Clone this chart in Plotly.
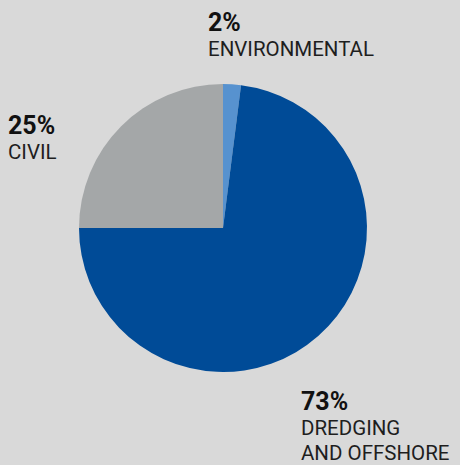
import plotly.graph_objects as go

W, H = 460, 465
labels = ["ENVIRONMENTAL", "DREDGING AND OFFSHORE", "CIVIL"]
values = [2, 73, 25]
colors = ["#5792cf", "#004b97", "#a4a7a8"]
pct_text = ["2%", "73%", "25%"]
name_lines = [["ENVIRONMENTAL"], ["DREDGING", "AND OFFSHORE"], ["CIVIL"]]
# label top-left positions in pixels
label_pos = [(206, 6), (299, 385), (6, 109)]

def px(x):
    return x / W

def py(y):
    return 1 - y / H

fig = go.Figure(go.Pie(
    labels=labels, values=values, sort=False, direction="clockwise", rotation=0,
    marker=dict(colors=colors, line=dict(width=0)),
    textinfo="none", hoverinfo="label+percent", showlegend=False,
    domain=dict(x=[px(79), px(367)], y=[py(372), py(84)]),
))

ann = []
for p, lines, (x, y) in zip(pct_text, name_lines, label_pos):
    ann.append(dict(text="<b>" + p + "</b>", x=px(x), y=py(y), xref="paper", yref="paper",
                    xanchor="left", yanchor="top", showarrow=False, align="left",
                    font=dict(family="Roboto", size=25, color="#111111")))
    for i, n in enumerate(lines):
        ann.append(dict(text=n, x=px(x), y=py(y + 29 + 24.5 * i), xref="paper", yref="paper",
                        xanchor="left", yanchor="top", showarrow=False, align="left",
                        font=dict(family="Roboto", size=20.5, color="#1e1e1e")))

fig.update_layout(width=W, height=H, margin=dict(l=0, r=0, t=0, b=0),
                  paper_bgcolor="#d9d9d9", plot_bgcolor="#d9d9d9", annotations=ann)
fig.write_html("out.html")
